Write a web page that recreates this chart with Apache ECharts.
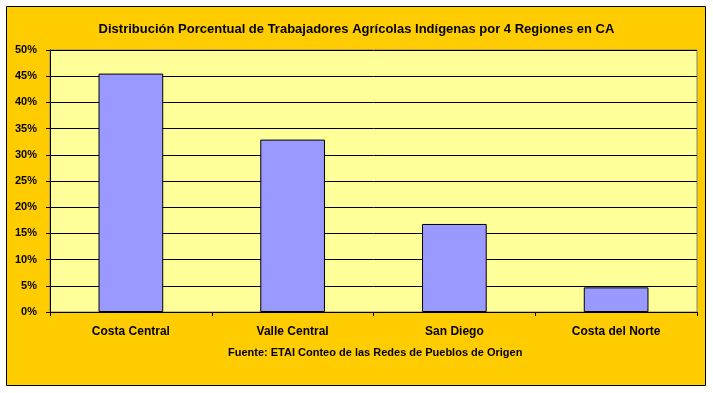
<!DOCTYPE html>
<html>
<head>
<meta charset="utf-8">
<script src="https://cdn.jsdelivr.net/npm/echarts@6/dist/echarts.min.js"></script>
<style>
html,body{margin:0;padding:0;background:#fff;}
#c{width:713px;height:393px;}
</style>
</head>
<body>
<div id="c"></div>
<script>
var titleText = 'Distribución Porcentual de Trabajadores Agrícolas Indígenas por 4 Regiones en CA';
var sourceText = 'Fuente: ETAI Conteo de las Redes de Pueblos de Origen';
var categories = ['Costa Central', 'Valle Central', 'San Diego', 'Costa del Norte'];
var values = [45.5, 32.9, 16.8, 4.7];
var yMin = 0, yMax = 50, yStep = 5;

var chart = echarts.init(document.getElementById('c'), null, {renderer: 'canvas'});
var font = 'Liberation Sans, Arial, sans-serif';
chart.setOption({
  backgroundColor: '#ffffff',
  animation: false,
  graphic: [{
    type: 'rect', z: -100, silent: true,
    shape: {x: 6.5, y: 6.5, width: 699, height: 379},
    style: {fill: '#FFCC00', stroke: '#000000', lineWidth: 1}
  }, {
    type: 'text', left: 228, top: 347,
    style: {text: sourceText, font: 'bold 11px ' + font, fill: '#000000'}
  }],
  title: {
    text: titleText, left: 'center', top: 18,
    textStyle: {fontFamily: font, fontSize: 13, fontWeight: 'bold', color: '#000000'}
  },
  grid: {
    left: 50, right: 16, top: 50, bottom: 81,
    show: true, backgroundColor: '#FFFF99', borderColor: '#808080', borderWidth: 1
  },
  xAxis: {
    type: 'category', data: categories,
    axisLine: {lineStyle: {color: '#000000', width: 1}},
    axisTick: {show: true, length: 4, lineStyle: {color: '#000000'}},
    axisLabel: {margin: 14, fontFamily: font, fontSize: 12, fontWeight: 'bold', color: '#000000'}
  },
  yAxis: {
    type: 'value', min: yMin, max: yMax, interval: yStep,
    axisLine: {show: true, lineStyle: {color: '#000000', width: 1}},
    axisTick: {show: true, length: 4, lineStyle: {color: '#000000'}},
    splitLine: {show: true, lineStyle: {color: '#000000', width: 1}},
    axisLabel: {margin: 13, formatter: '{value}%', fontFamily: font, fontSize: 11, fontWeight: 'bold', color: '#000000'}
  },
  series: [{
    type: 'bar', data: values, barWidth: '40%',
    itemStyle: {color: '#9999FF', borderColor: '#000000', borderWidth: 1}
  }]
});
</script>
</body>
</html>
